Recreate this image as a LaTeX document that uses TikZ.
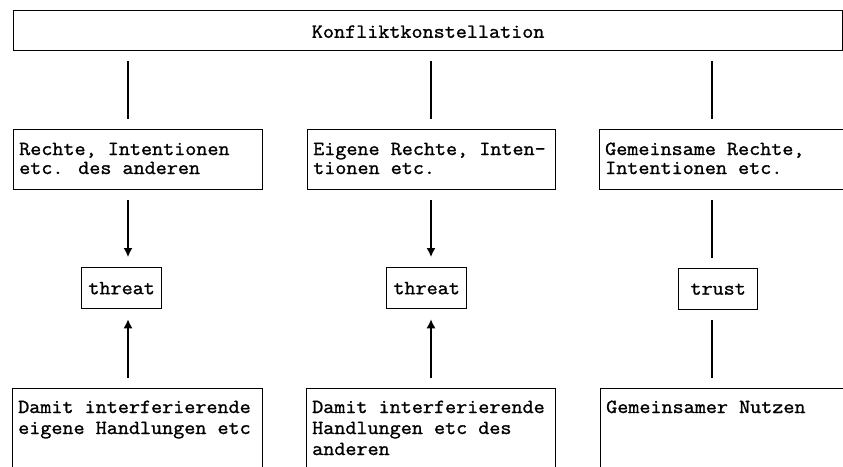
\documentclass[tikz,border=0pt]{standalone}
\usepackage{fontspec}
\newfontfamily\courfont{Latin Modern Mono}[FakeBold=1.2, FakeStretch=1.075]
\usetikzlibrary{arrows.meta,calc}

\begin{document}
\begin{tikzpicture}[x=1pt,y=-1pt,
  frame/.style={draw, line width=1.3pt, rectangle, inner sep=0pt, anchor=north west},
  lbl/.style={inner sep=0pt, anchor=base west, align=left},
  mono/.style={font=\courfont\fontsize{20}{#1}\selectfont},
  link/.style={line width=1.4pt, shorten <=10pt, shorten >=10pt},
  arr/.style={link, -{Latex[length=9pt,width=9pt]}}]
  \useasboundingbox (0,0) rectangle (843,466);
  \clip (0,0) rectangle (843,466);
  \fill[white] (0,0) rectangle (843,466);

  % column axes of the connectors
  \coordinate (c1) at (128,0);
  \coordinate (c2) at (431,0);
  \coordinate (c3) at (712,0);

  % top bar
  \node[frame, minimum width=829pt, minimum height=40pt] (k) at (13,10) {};
  \node[mono=19] (kt) at ($(k.center)+(0,1)$) {Konfliktkonstellation};

  % middle row (a multi-line label sits on its last baseline)
  \node[frame, minimum width=249pt, minimum height=60pt] (r1) at (13,129) {};
  \node[frame, minimum width=248pt, minimum height=60pt] (r2) at (307,129) {};
  \node[frame, minimum width=260pt, minimum height=60pt] (r3) at (599,129) {};
  \node[lbl, mono=19] (r1t) at ($(r1.north west)+(6,45)$) {Rechte, Intentionen\\etc. des anderen};
  \node[lbl, mono=19] (r2t) at ($(r2.north west)+(6,45)$) {Eigene Rechte, Inten-\\tionen etc.};
  \node[lbl, mono=19] (r3t) at ($(r3.north west)+(6,45)$) {Gemeinsame Rechte,\\Intentionen etc.};

  % threat / trust row
  \node[frame, minimum width=80pt, minimum height=41pt] (t1) at (81,267) {};
  \node[frame, minimum width=80pt, minimum height=41pt] (t2) at (386,267) {};
  \node[frame, minimum width=79pt, minimum height=41pt] (t3) at (678,268) {};
  \node[mono=19] (t1t) at (t1.center) {threat};
  \node[mono=19] (t2t) at (t2.center) {threat};
  \node[mono=19] (t3t) at (t3.center) {trust};

  % bottom row (runs past the lower edge)
  \node[frame, minimum width=250pt, minimum height=95pt] (b1) at (12,388) {};
  \node[frame, minimum width=249pt, minimum height=95pt] (b2) at (306,388) {};
  \node[frame, minimum width=260pt, minimum height=95pt] (b3) at (600,388) {};
  \node[lbl, mono=21] (b1t) at ($(b1.north west)+(6,46)$) {Damit interferierende\\eigene Handlungen etc};
  \node[lbl, mono=21] (b2t) at ($(b2.north west)+(6,67)$) {Damit interferierende\\Handlungen etc des\\anderen};
  \node[lbl, mono=21] (b3t) at ($(b3.north west)+(6,25)$) {Gemeinsamer Nutzen};

  % connectors
  \draw[link] (k.south -| c1) -- (r1.north -| c1);
  \draw[link] (k.south -| c2) -- (r2.north -| c2);
  \draw[link] (k.south -| c3) -- (r3.north -| c3);

  \draw[arr] (r1.south -| c1) -- (t1.north -| c1);
  \draw[arr] (r2.south -| c2) -- (t2.north -| c2);
  \draw[link] (r3.south -| c3) -- (t3.north -| c3);

  \draw[arr] (b1.north -| c1) -- (t1.south -| c1);
  \draw[arr] (b2.north -| c2) -- (t2.south -| c2);
  \draw[link] (b3.north -| c3) -- (t3.south -| c3);
\end{tikzpicture}
\end{document}
